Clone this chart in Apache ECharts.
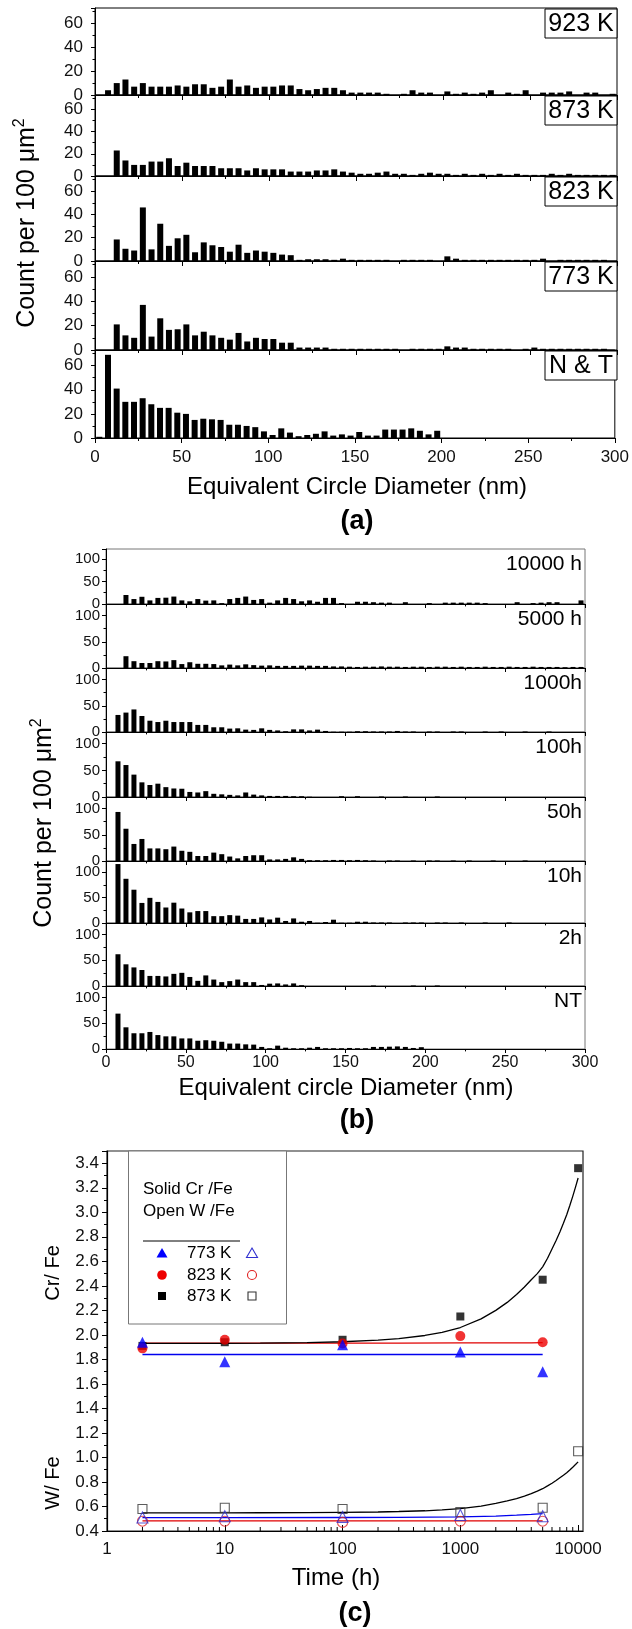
<!DOCTYPE html>
<html><head><meta charset="utf-8">
<script src="https://cdn.jsdelivr.net/npm/echarts@6/dist/echarts.min.js"></script>
<style>html,body{margin:0;padding:0;background:#fff}#c{width:632px;height:1629px}</style>
</head><body><div id="c"></div>
<script>
// ---------- DATA ----------
const binCenters = [2.5,7.5,12.5,17.5,22.5,27.5,32.5,37.5,42.5,47.5,52.5,57.5,62.5,67.5,72.5,77.5,82.5,87.5,92.5,97.5,
  102.5,107.5,112.5,117.5,122.5,127.5,132.5,137.5,142.5,147.5,152.5,157.5,162.5,167.5,172.5,177.5,182.5,187.5,192.5,197.5,
  202.5,207.5,212.5,217.5,222.5,227.5,232.5,237.5,242.5,247.5,252.5,257.5,262.5,267.5,272.5,277.5,282.5,287.5,292.5,297.5];

// panel (a)
const tempLabels = ['923 K','873 K','823 K','773 K','N & T'];
const count923K = [0,4,10,13,7,10,7,7,7,8, 7,9,9,6,7,13,7,8,6,7, 7,8,8,5,4,5,6,6,4,2, 2,2,2,1,0,1,4,2,2,0, 3,1,2,1,2,4,0,2,1,4, 0,2,2,2,3,0,2,2,0,1];
const count873K = [0,0,23,14,10,10,13,13,16,9, 12,9,9,9,7,7,7,5,7,6, 6,6,4,4,4,5,5,6,4,3, 2,2,3,4,2,2,1,2,3,2, 2,1,2,1,2,1,2,1,2,1, 1,1,2,1,2,1,1,1,1,1];
const count823K = [0,0,18.5,10.5,9,46,10,32,13,19.5, 22.5,7.5,16,13.5,12,8,14,7,9,8, 7,5.5,5,1,1.5,1.5,1.5,1,2,1, 1,1,1,1,0,1,1,1,1,0, 4,2,1,1,1,1,1,1,1,1, 1,2,0,1,1,1,1,1,1,0];
const count773K = [0,0,21,12,10,37,11,26,16.5,17, 21,12,15,12,10,8.5,14,7,10,9, 9,6,6,2,2,2,2,1,1,1, 1,1,1,1,1,0,1,1,1,1, 3,2,2,1,1,1,1,1,0,1, 2,1,1,1,1,1,1,1,1,0];
const countNT_a = [1,69,41,30,30,33,28,25,25,21, 20,15,16,15.5,15,11,11,10,9,5.5, 2.5,8,4.5,1.5,2.5,3.5,5.5,2,3,2, 5,2,2,7,7,7,8,6,3,6, 0,0,0,0,0,0,0,0,0,0, 0,0,0,0,0,0,0,0,0,0];

// panel (b)
const timeLabels = ['10000 h','5000 h','1000h','100h','50h','10h','2h','NT'];
const count10000h = [0,0,20,11,16,8,13.5,14,16.5,8, 6,11,7.5,8,2,11,13.5,16.5,9,11, 3,8,13.5,11,6,8,5,13.5,13.5,2, 0,5,5,4,3,3,0,4,0,0, 2,0,3,3,3,3,3,2,0,0, 0,4,0,2,3,4,4,0,0,8];
const count5000h = [0,0,22.5,13,9.5,9.5,13,12.5,15,7.5, 11,8,8,7.5,5,6.5,5,7,5.5,4.5, 5,4,4,4,4.5,4.5,4,4,3,3, 2.5,2,2.5,2.5,3,2.5,2.5,2,2.5,2.5, 2,2.5,2.5,2,2.5,2,2,2.5,2,2, 2.5,2,2,2.5,2,2,2,1.5,2,2];
const count1000h = [0,32.5,37,43,30.5,21.5,19,21.5,19,19, 19,13.5,13.5,9,9,6.5,7,4.5,4,7, 4,3,1.5,5,5,3,4.5,2,0.5,0.5, 0.5,1.5,1.5,1,1,1,2,1,1,0, 1,1,0,1,1,0,0,1,0,1, 0,0,1,0,0,1,0,0,0,0];
const count100h = [0,67,60,42,27.5,22.5,25,18.5,16,15.5, 9.5,8.5,11,6,5,4,3,8.5,4.5,3, 2,2,2,1.5,1.5,0.5,0,0,0,1.5, 0,1.5,0,0,1,0,0,1,0,0, 0,1,0,0,0,0,0,0,0,0, 0,0,0,0,0,0,0,0,0,0];
const count50h = [0,93.5,61.5,32.5,42,24,24,22.5,27.5,19.5, 17.5,9.5,9.5,16,13,8.5,5,9.5,11,11, 3,3,4,7,4,1.5,1.5,1.5,2,2, 1.5,2,1.5,1,0,1,1,0,1,0, 1,1,0,1,0,1,0,0,1,0, 0,0,1,0,0,0,0,0,0,0];
const count10h = [0,116,87,65.5,39.5,49.5,41.5,30.5,40,28.5, 21,23.5,23.5,13.5,13.5,15.5,14.5,8,8,11, 7,10.5,4,9,2.5,4,0.5,2,6.5,0.5, 0.5,2.5,2.5,1,1,1,0,1,1,1, 0,1,1,0,1,0,0,1,0,0, 1,0,0,0,0,0,0,0,0,0];
const count2h = [0,61.5,42,36,31,19.5,19.5,18.5,23.5,25.5, 17.5,10,20.5,12.5,7.5,9.5,12.5,7.5,7.5,2, 4.5,5,3,5,1.5,0,0,0,0,0, 0,0,0,1,0,0,0,0,1,0, 0,1,0,0,0,0,0,0,0,0, 0,0,0,0,0,0,0,0,0,0];
const countNT_b = [0,68.5,42,30.5,30.5,33,27,24.5,24.5,20.5, 20.5,16,17,16,14,10.5,10.5,9,8.5,4, 1.5,6.5,2.5,1.5,1.5,2.5,4,1.5,1.5,1.5, 2,1.5,1.5,4,4,4.5,5,4,2,3.5, 0,0,0,0,0,0,0,0,0,0, 0,0,0,0,0,0,0,0,0,0];

// panel (c)
const agingTime = [2, 10, 100, 1000, 5000, 10000];
const crFe773 = [1.94, 1.78, 1.92, 1.86, 1.70, null];
const crFe823 = [1.89, 1.96, 1.93, 1.99, 1.94, null];
const crFe873 = [1.91, 1.94, 1.96, 2.15, 2.45, 3.36];
const wFe773 = [0.51, 0.52, 0.515, 0.53, 0.52, null];
const wFe823 = [0.48, 0.48, 0.47, 0.48, 0.48, null];
const wFe873 = [0.58, 0.59, 0.58, 0.555, 0.59, 1.05];
const fitTime = [2, 5, 10, 20, 50, 100, 200, 300, 500, 700, 1000, 1500, 2000, 2500, 3000, 3500, 4000, 4500, 5000, 5500, 6000, 6500, 7000, 7500, 8000, 8500, 9000, 9500, 10000];
const fitCr873 = [1.93, 1.93, 1.931, 1.933, 1.937, 1.944, 1.957, 1.97, 1.995, 2.02, 2.06, 2.13, 2.2, 2.265, 2.33, 2.39, 2.45, 2.5, 2.555, 2.625, 2.7, 2.77, 2.84, 2.91, 2.98, 3.055, 3.13, 3.205, 3.28];
const fitW873 = [0.548, 0.548, 0.548, 0.549, 0.55, 0.552, 0.555, 0.559, 0.565, 0.572, 0.582, 0.603, 0.625, 0.645, 0.665, 0.685, 0.705, 0.725, 0.745, 0.768, 0.79, 0.812, 0.835, 0.855, 0.875, 0.898, 0.92, 0.942, 0.964];
const fitTimeShort = [2, 10, 100, 300, 1000, 2000, 3000, 4000, 5000];
const fitCr773 = [1.84, 1.84, 1.84, 1.84, 1.84, 1.84, 1.84, 1.84, 1.84];
const fitCr823 = [1.933, 1.933, 1.933, 1.933, 1.934, 1.934, 1.935, 1.935, 1.936];
const fitW773 = [0.509, 0.509, 0.51, 0.511, 0.516, 0.522, 0.529, 0.535, 0.542];
const fitW823 = [0.482, 0.482, 0.482, 0.482, 0.482, 0.482, 0.482, 0.482, 0.482];
const timeMinorTicks = [2,3,4,5,6,7,8,9,20,30,40,50,60,70,80,90,200,300,400,500,600,700,800,900,2000,3000,4000,5000,6000,7000,8000,9000];
const legendTemps = ['773 K','823 K','873 K'];

// ---------- LAYOUT ----------
const FONT = '"Liberation Sans", Arial, Helvetica, sans-serif';
const A_LEFT = 95, A_RIGHT = 617, A_BOUNDS = [8, 95, 176, 261, 350, 438];
const B_LEFT = 106, B_RIGHT = 585, B_BOUNDS = [549, 604, 668, 732, 797, 861, 923, 986, 1049];
const C_LEFT = 107, C_RIGHT = 583, C_TOP = 1151, C_BOTTOM = 1531;

const grids = [], xAxes = [], yAxes = [], series = [], graphics = [];
const txt = (o) => Object.assign({fill:'#000'}, o);

function addBarPanel(arr, left, right, top, bottom, cfg, isLast) {
  const gi = grids.length;
  grids.push({left: left, top: top, width: right - left, height: bottom - top, show: true,
    borderColor: cfg.border, borderWidth: 1, backgroundColor: 'transparent'});
  xAxes.push({type: 'value', gridIndex: gi, min: 0, max: 300, interval: 50,
    axisLine: {show: true, onZero: false, lineStyle: {color: '#000', width: 1}},
    axisTick: {show: true, length: cfg.xTick, lineStyle: {color: '#000'}},
    minorTick: {show: true, splitNumber: 2, length: cfg.xTick * 0.6, lineStyle: {color: '#000'}},
    axisLabel: {show: isLast, fontSize: cfg.xFont, fontFamily: FONT, color: '#111', margin: cfg.xMargin},
    splitLine: {show: false}, minorSplitLine: {show: false}});
  yAxes.push({type: 'value', gridIndex: gi, min: 0, max: cfg.yMax, interval: cfg.yInt,
    axisLine: {show: true, lineStyle: {color: '#000', width: 1}},
    axisTick: {show: true, length: 4, lineStyle: {color: '#000'}},
    minorTick: {show: true, splitNumber: 2, length: 2.5, lineStyle: {color: '#000'}},
    axisLabel: {fontSize: cfg.yFont, fontFamily: FONT, color: '#111', margin: cfg.yMargin, showMaxLabel: false,
      formatter: v => (v % cfg.yInt === 0 ? String(v) : '')},
    splitLine: {show: false}, minorSplitLine: {show: false}});
  series.push({type: 'bar', xAxisIndex: gi, yAxisIndex: gi, silent: true,
    data: binCenters.map((x, k) => [x, arr[k]]), barWidth: cfg.barW,
    itemStyle: {color: '#000'}});
}

const cfgA = {border: '#000', xTick: 5, xFont: 17, xMargin: 11, yMax: 73, yInt: 20, yFont: 17, yMargin: 12, barW: 6};
const panelsA = [count923K, count873K, count823K, count773K, countNT_a];
panelsA.forEach((arr, i) => {
  addBarPanel(arr, A_LEFT, A_RIGHT, A_BOUNDS[i], A_BOUNDS[i + 1], cfgA, i === panelsA.length - 1);
  graphics.push({type: 'rect', z: 50, shape: {x: A_RIGHT - 72, y: A_BOUNDS[i] + 1, width: 72, height: 29},
    style: {fill: '#fff', stroke: '#000', lineWidth: 1}});
  graphics.push({type: 'text', z: 51, style: txt({text: tempLabels[i], x: A_RIGHT - 36, y: A_BOUNDS[i] + 16,
    textAlign: 'center', textVerticalAlign: 'middle', align: 'center', verticalAlign: 'middle', font: '25px ' + FONT})});
});

const cfgB = {border: '#777', xTick: 4, xFont: 16, xMargin: 6, yMax: 122, yInt: 50, yFont: 15, yMargin: 6, barW: 5};
const panelsB = [count10000h, count5000h, count1000h, count100h, count50h, count10h, count2h, countNT_b];
panelsB.forEach((arr, i) => {
  addBarPanel(arr, B_LEFT, B_RIGHT, B_BOUNDS[i], B_BOUNDS[i + 1], cfgB, i === panelsB.length - 1);
  graphics.push({type: 'text', z: 51, style: txt({text: timeLabels[i], x: B_RIGHT - 3, y: B_BOUNDS[i] + 15,
    textAlign: 'right', textVerticalAlign: 'middle', align: 'right', verticalAlign: 'middle', font: '21px ' + FONT})});
});

// panel (c)
const gc = grids.length;
grids.push({left: C_LEFT, top: C_TOP, width: C_RIGHT - C_LEFT, height: C_BOTTOM - C_TOP, show: true,
  borderColor: '#222', borderWidth: 1.2, backgroundColor: 'transparent'});
xAxes.push({type: 'log', logBase: 10, gridIndex: gc, min: 1, max: 11000,
  axisLine: {show: true, onZero: false, lineStyle: {color: '#000', width: 1.2}},
  axisTick: {show: true, inside: true, length: 6, lineStyle: {color: '#000'}},
  axisLabel: {fontSize: 17, fontFamily: FONT, color: '#111', margin: 10, showMaxLabel: false,
    formatter: v => (v > 10001 ? '' : String(Math.round(v)))},
  splitLine: {show: false}});
yAxes.push({type: 'value', gridIndex: gc, min: 0.4, max: 3.5, interval: 0.2,
  axisLine: {show: true, lineStyle: {color: '#000', width: 1.2}},
  axisTick: {show: true, length: 5, lineStyle: {color: '#000'}},
  minorTick: {show: true, splitNumber: 2, length: 3, lineStyle: {color: '#000'}},
  axisLabel: {fontSize: 17, fontFamily: FONT, color: '#111', margin: 8, showMaxLabel: false,
    formatter: v => (Math.abs(v - 3.5) < 1e-6 ? '' : v.toFixed(1))},
  splitLine: {show: false}, minorSplitLine: {show: false}});

series.push({type: 'custom', xAxisIndex: gc, yAxisIndex: gc, silent: true, clip: false,
  data: timeMinorTicks.map(t => [t, 0.4]),
  renderItem: (params, api) => {
    const p = api.coord([api.value(0), api.value(1)]);
    return {type: 'line', shape: {x1: p[0], y1: p[1], x2: p[0], y2: p[1] - 4}, style: {stroke: '#000', lineWidth: 1}};
  }});

function fitLine(xs, ys, color) {
  series.push({type: 'line', xAxisIndex: gc, yAxisIndex: gc, silent: true, z: 2, symbol: 'none', smooth: false,
    data: xs.map((t, i) => [t, ys[i]]), lineStyle: {color: color, width: 1.3}});
}
fitLine(fitTimeShort, fitCr773, '#0000ee');
fitLine(fitTimeShort, fitCr823, '#e00000');
fitLine(fitTime, fitCr873, '#000');
fitLine(fitTimeShort, fitW773, '#0000ee');
fitLine(fitTimeShort, fitW823, '#e00000');
fitLine(fitTime, fitW873, '#000');

function pts(vals) { return agingTime.map((t, i) => [t, vals[i]]).filter(d => d[1] != null); }
function scatter(vals, symbol, size, color, open) {
  series.push({type: 'scatter', xAxisIndex: gc, yAxisIndex: gc, silent: true, z: 3, symbol: symbol, symbolSize: size,
    data: pts(vals),
    itemStyle: open ? {color: 'rgba(255,255,255,0)', borderColor: color, borderWidth: 1.1} : {color: color}});
}
scatter(crFe873, 'rect', 8, '#000', false);
scatter(crFe823, 'circle', 10, '#ee0000', false);
scatter(crFe773, 'triangle', 11, '#0000ff', false);
scatter(wFe873, 'rect', 9, '#333', true);
scatter(wFe823, 'circle', 10, '#e02020', true);
scatter(wFe773, 'triangle', 11, '#3030d0', true);

// ---------- TEXT / TITLES ----------
const yTitleRich = {a: {font: '25px ' + FONT, fill: '#000'}, s: {font: '16px ' + FONT, fill: '#000', verticalAlign: 'top', lineHeight: 30}};
graphics.push({type: 'text', x: 27, y: 223, rotation: Math.PI / 2, style: txt({text: '{a|Count per 100 μm}{s|2}', rich: yTitleRich,
  textAlign: 'center', textVerticalAlign: 'middle', align: 'center', verticalAlign: 'middle'})});
graphics.push({type: 'text', x: 44, y: 823, rotation: Math.PI / 2, style: txt({text: '{a|Count per 100 μm}{s|2}', rich: yTitleRich,
  textAlign: 'center', textVerticalAlign: 'middle', align: 'center', verticalAlign: 'middle'})});
function ctext(s, x, y, font, extra) {
  graphics.push(Object.assign({type: 'text', x: x, y: y, style: txt({text: s, textAlign: 'center', textVerticalAlign: 'middle',
    align: 'center', verticalAlign: 'middle', font: font})}, extra || {}));
}
ctext('Equivalent Circle Diameter (nm)', 357, 487, '24px ' + FONT);
ctext('(a)', 357, 522, 'bold 27px ' + FONT);
ctext('Equivalent circle Diameter (nm)', 346, 1088, '24px ' + FONT);
ctext('(b)', 357, 1121, 'bold 27px ' + FONT);
ctext('Cr/ Fe', 53, 1273, '20px ' + FONT, {rotation: Math.PI / 2});
ctext('W/ Fe', 53, 1483, '20px ' + FONT, {rotation: Math.PI / 2});
ctext('Time (h)', 336, 1578, '24px ' + FONT);
ctext('(c)', 355, 1614, 'bold 27px ' + FONT);

// legend of (c)
graphics.push({type: 'rect', z: 60, shape: {x: 128.5, y: C_TOP, width: 158, height: 173}, style: {fill: '#fff', stroke: '#777', lineWidth: 1}});
function ltext(s, x, y) {
  graphics.push({type: 'text', z: 61, style: txt({text: s, x: x, y: y, textAlign: 'left', textVerticalAlign: 'middle',
    align: 'left', verticalAlign: 'middle', font: '17px ' + FONT})});
}
ltext('Solid Cr /Fe', 143, 1189);
ltext('Open W /Fe', 143, 1211);
graphics.push({type: 'line', z: 61, shape: {x1: 143, y1: 1241, x2: 240, y2: 1241}, style: {stroke: '#000', lineWidth: 1}});
const rowsY = [1253, 1275, 1296];
legendTemps.forEach((s, i) => ltext(s, 187, rowsY[i]));
graphics.push({type: 'polygon', z: 61, shape: {points: [[162, rowsY[0] - 5], [167.5, rowsY[0] + 4.5], [156.5, rowsY[0] + 4.5]]}, style: {fill: '#0000ff'}});
graphics.push({type: 'circle', z: 61, shape: {cx: 162, cy: rowsY[1], r: 4.8}, style: {fill: '#ee0000'}});
graphics.push({type: 'rect', z: 61, shape: {x: 158, y: rowsY[2] - 4, width: 8, height: 8}, style: {fill: '#000'}});
graphics.push({type: 'polygon', z: 61, shape: {points: [[252, rowsY[0] - 5], [257.5, rowsY[0] + 4.5], [246.5, rowsY[0] + 4.5]]}, style: {fill: 'none', stroke: '#3030d0', lineWidth: 1.1}});
graphics.push({type: 'circle', z: 61, shape: {cx: 252, cy: rowsY[1], r: 4.5}, style: {fill: 'none', stroke: '#e02020', lineWidth: 1.1}});
graphics.push({type: 'rect', z: 61, shape: {x: 248, y: rowsY[2] - 4, width: 8, height: 8}, style: {fill: 'none', stroke: '#333', lineWidth: 1.1}});

const chart = echarts.init(document.getElementById('c'), null, {renderer: 'canvas'});
chart.setOption({
  animation: false,
  backgroundColor: '#fff',
  grid: grids, xAxis: xAxes, yAxis: yAxes, series: series,
  graphic: {elements: graphics}
});
</script></body></html>
